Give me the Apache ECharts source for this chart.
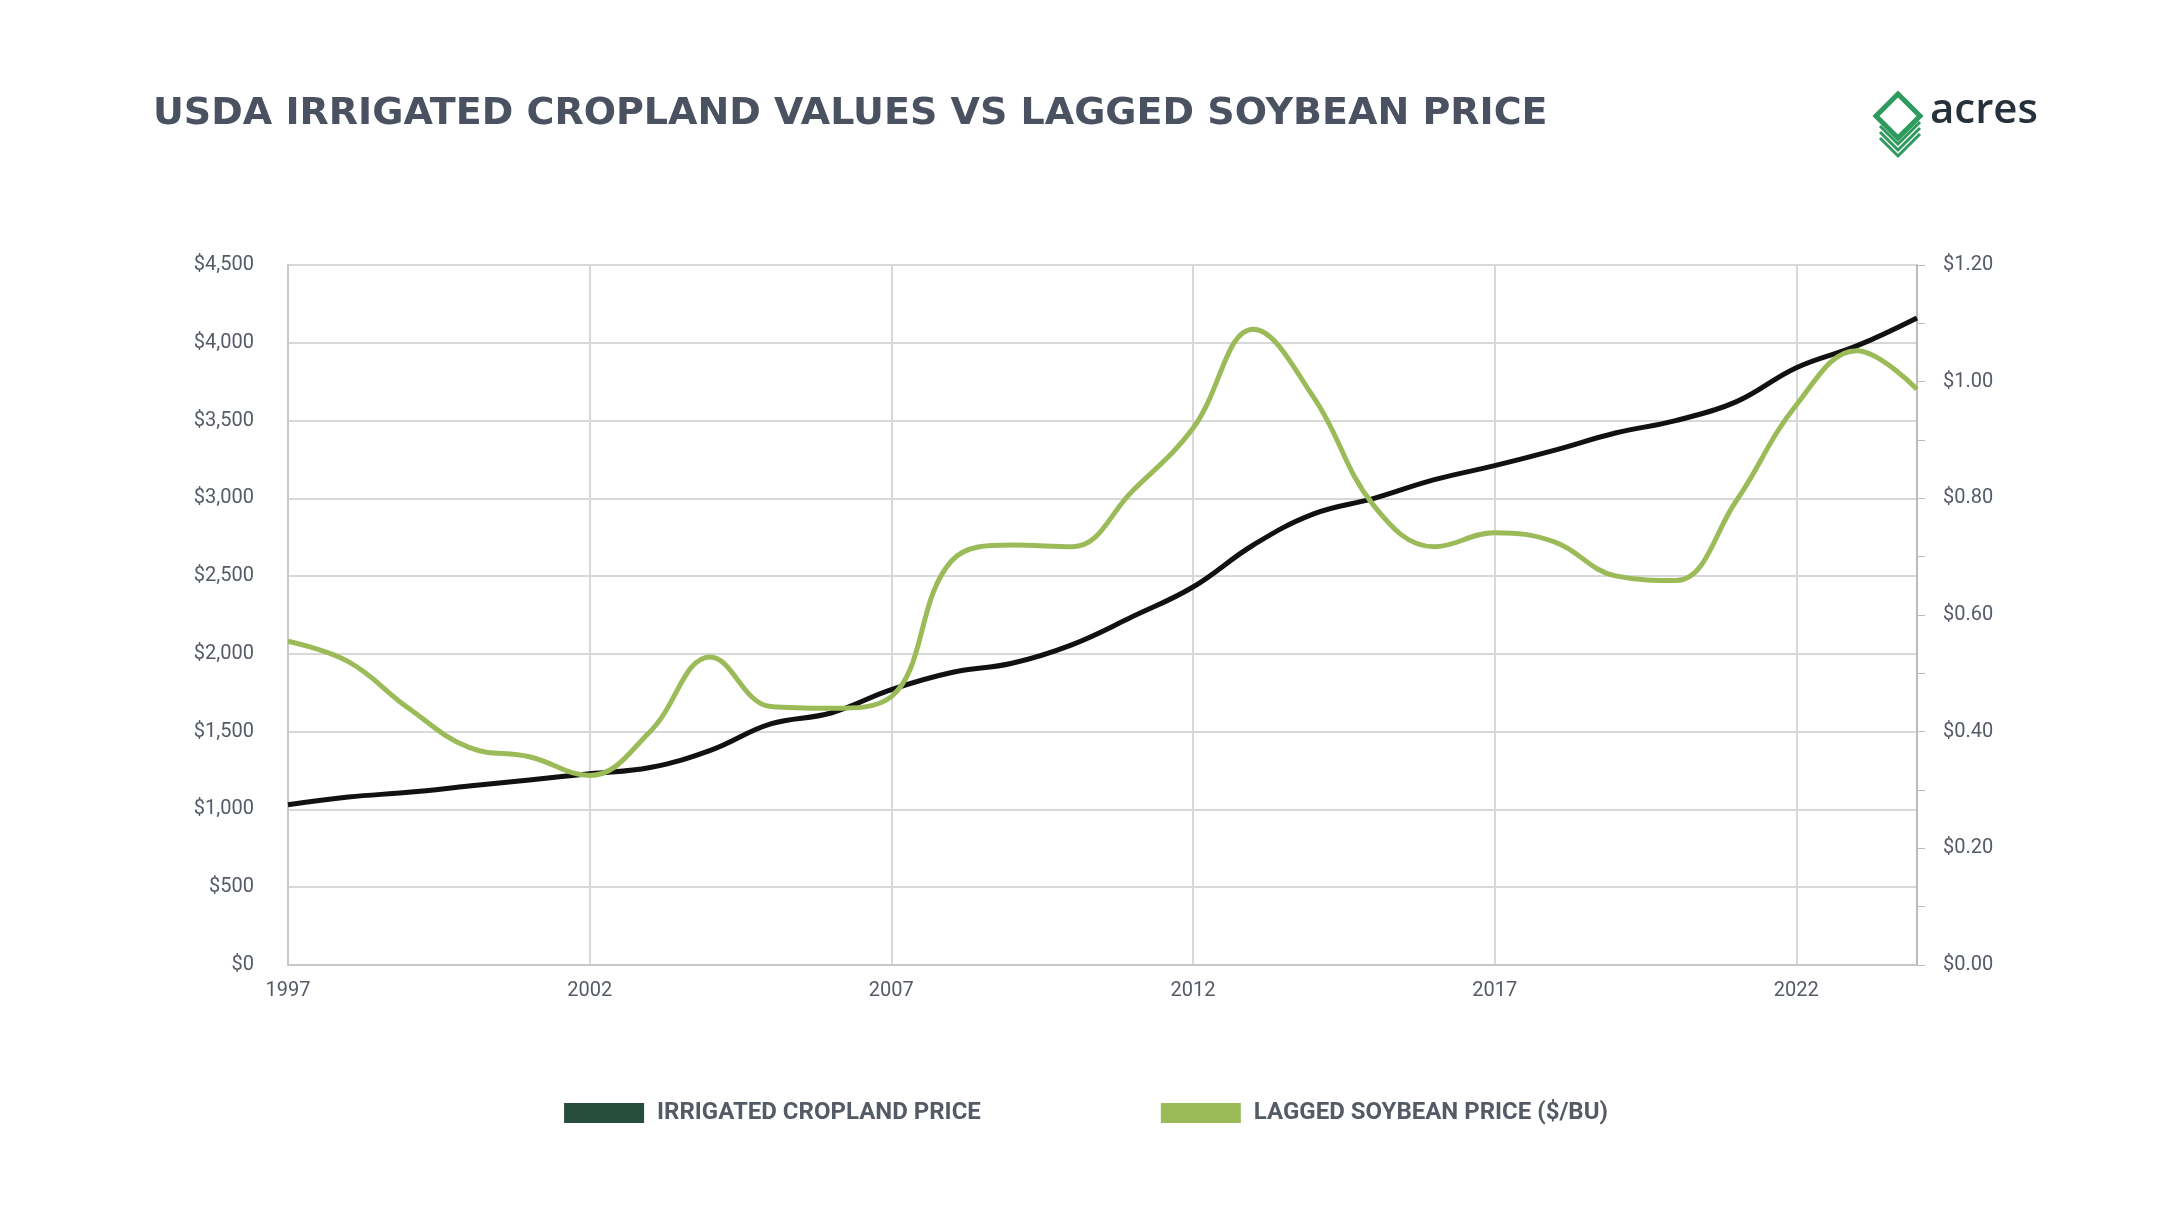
<!DOCTYPE html>
<html>
<head>
<meta charset="utf-8">
<script src="https://cdn.jsdelivr.net/npm/echarts@6/dist/echarts.min.js"></script>
<style>
html,body{margin:0;padding:0;background:#fff;}
#main{width:2172px;height:1222px;}
</style>
</head>
<body>
<div id="main"></div>
<script>
var years = [1997,1998,1999,2000,2001,2002,2003,2004,2005,2006,2007,2008,2009,2010,2011,2012,2013,2014,2015,2016,2017,2018,2019,2020,2021,2022,2023,2024];
var cropland = [1030,1080,1110,1150,1190,1230,1270,1380,1550,1620,1770,1880,1940,2060,2240,2430,2700,2900,3000,3120,3210,3310,3420,3500,3620,3840,3980,4160];
var soybean = [0.555,0.52,0.44,0.373,0.357,0.325,0.40,0.528,0.443,0.44,0.46,0.693,0.72,0.717,0.813,0.92,1.09,0.973,0.787,0.717,0.741,0.725,0.667,0.659,0.795,0.96,1.053,0.987];

function pairs(vals) {
    var out = [];
    for (var i = 0; i < years.length; i++) {
        out.push([years[i], vals[i]]);
    }
    return out;
}

var myChart = echarts.init(document.getElementById('main'));

var option = {
    backgroundColor: '#fff',
    animation: false,
    title: {
        text: 'USDA IRRIGATED CROPLAND VALUES VS LAGGED SOYBEAN PRICE',
        left: 148, top: 90,
        textStyle: {color: '#4a5262', fontSize: 38, fontWeight: 'bold', fontFamily: 'DejaVu Sans'}
    },
    grid: {left: 288, right: 2172 - 1917, top: 265, bottom: 1222 - 965},
    legend: {
        bottom: 92, left: 'center', itemGap: 180, itemWidth: 80, itemHeight: 20,
        icon: 'rect',
        textStyle: {color: '#555b66', fontSize: 24, fontWeight: 'bold', fontFamily: 'Roboto', padding: [0, 0, 0, 8]},
        data: ['IRRIGATED CROPLAND PRICE', 'LAGGED SOYBEAN PRICE ($/BU)']
    },
    xAxis: {
        type: 'value', min: 1997, max: 2024, interval: 5,
        axisLine: {lineStyle: {color: '#c8c8c8', width: 2}},
        axisTick: {show: false},
        axisLabel: {color: '#555b66', fontSize: 20, fontFamily: 'Roboto', margin: 16,
            formatter: function (v) { return v % 5 === 2 ? String(v) : ''; }},
        splitLine: {show: true, lineStyle: {color: '#d8d8d8', width: 2}}
    },
    yAxis: [{
        type: 'value', min: 0, max: 4500, interval: 500,
        axisLine: {show: true, lineStyle: {color: '#c8c8c8', width: 2}},
        axisTick: {show: false},
        axisLabel: {color: '#555b66', fontSize: 20, fontFamily: 'Roboto', margin: 34,
            formatter: function (v) { return '$' + v.toLocaleString('en-US'); }},
        splitLine: {lineStyle: {color: '#d8d8d8', width: 2}}
    }, {
        type: 'value', min: 0, max: 1.2, interval: 0.2,
        axisLine: {show: true, lineStyle: {color: '#bbbbbb', width: 2}},
        axisTick: {show: true, length: 8, lineStyle: {color: '#bbbbbb'}},
        minorTick: {show: true, splitNumber: 2, length: 8, lineStyle: {color: '#bbbbbb'}},
        axisLabel: {color: '#555b66', fontSize: 20, fontFamily: 'Roboto', margin: 26,
            formatter: function (v) { return '$' + v.toFixed(2); }},
        splitLine: {show: false}
    }],
    series: [{
        name: 'IRRIGATED CROPLAND PRICE', type: 'line', smooth: 0.4, symbol: 'none',
        color: '#264d3b',
        lineStyle: {color: '#111', width: 5},
        data: pairs(cropland)
    }, {
        name: 'LAGGED SOYBEAN PRICE ($/BU)', type: 'line', smooth: 0.4, symbol: 'none', yAxisIndex: 1,
        color: '#9bbb59',
        lineStyle: {color: '#9bbb59', width: 5},
        data: pairs(soybean)
    }],
    graphic: [
        {type: 'polygon', shape: {points: [[1898, 94], [1920, 116], [1898, 138], [1876, 116]]},
            style: {fill: 'none', stroke: '#2e9a5e', lineWidth: 5}},
        {type: 'polyline', shape: {points: [[1880, 126], [1898, 144], [1920, 122]]}, style: {fill: 'none', stroke: '#2e9a5e', lineWidth: 3}},
        {type: 'polyline', shape: {points: [[1880, 132], [1898, 150], [1920, 128]]}, style: {fill: 'none', stroke: '#2e9a5e', lineWidth: 3}},
        {type: 'polyline', shape: {points: [[1880, 138], [1898, 156], [1920, 134]]}, style: {fill: 'none', stroke: '#2e9a5e', lineWidth: 3}},
        {type: 'text', left: 1930, top: 90, style: {text: 'acres', fill: '#27313b', fontSize: 42, fontFamily: 'Open Sans', fontWeight: 600}}
    ]
};
myChart.setOption(option);
</script>
</body>
</html>
